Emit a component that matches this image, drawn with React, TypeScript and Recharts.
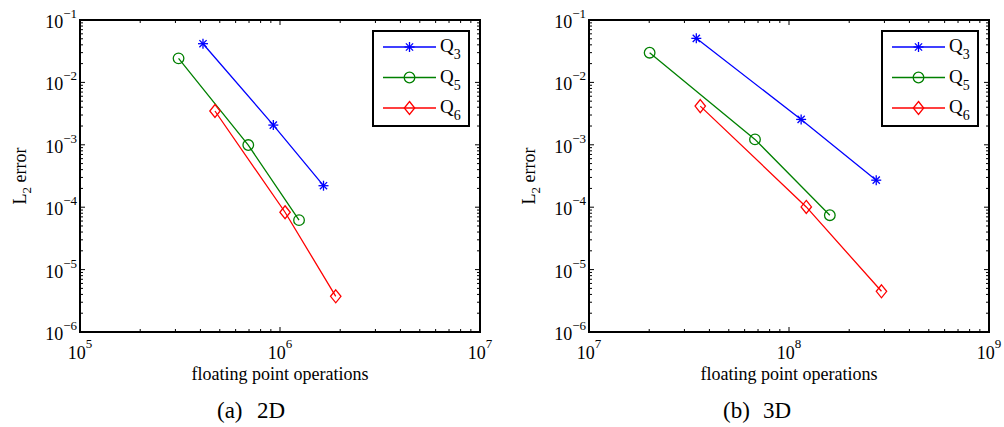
import React from 'react';
import { ScatterChart, Scatter, XAxis, YAxis, Legend } from 'recharts';

// ---------- data ----------
const seriesNames = ['Q3', 'Q5', 'Q6'];
const seriesColors = ['#0000ff', '#008000', '#ff0000'];

// 2D panel
const flops2dQ3 = [4.12e5, 9.26e5, 1.65e6];
const err2dQ3 = [4.17e-2, 2.07e-3, 2.21e-4];
const flops2dQ5 = [3.11e5, 6.94e5, 1.245e6];
const err2dQ5 = [2.43e-2, 9.9e-4, 6.2e-5];
const flops2dQ6 = [4.73e5, 1.06e6, 1.9e6];
const err2dQ6 = [3.48e-3, 8.3e-5, 3.73e-6];

// 3D panel
const flops3dQ3 = [3.44e7, 1.15e8, 2.73e8];
const err3dQ3 = [5.08e-2, 2.55e-3, 2.71e-4];
const flops3dQ5 = [2.01e7, 6.76e7, 1.6e8];
const err3dQ5 = [2.99e-2, 1.22e-3, 7.45e-5];
const flops3dQ6 = [3.6e7, 1.22e8, 2.9e8];
const err3dQ6 = [4.17e-3, 1.01e-4, 4.49e-6];

// axes
const xDecades2d = [5, 6, 7];
const xDecades3d = [7, 8, 9];
const yDecades = [-6, -5, -4, -3, -2, -1];
const minorMultipliers = [2, 3, 4, 5, 6, 7, 8, 9];

const xLabel = 'floating point operations';
const yLabelMain = 'L';
const yLabelSub = '2';
const yLabelRest = ' error';
const captions = [['(a)', '2D'], ['(b)', '3D']];

// ---------- helpers ----------
const FONT = '"Liberation Serif", "Times New Roman", serif';

function buildTicks(decades: number[]) {
  const out: number[] = [];
  decades.forEach((d, i) => {
    out.push(Math.pow(10, d));
    if (i < decades.length - 1) minorMultipliers.forEach((m) => out.push(m * Math.pow(10, d)));
  });
  return out;
}
function toPoints(xs: number[], ys: number[]) {
  return xs.map((x, i) => ({ x, y: ys[i] }));
}
function decadeOf(v: number) {
  const e = Math.log10(v);
  const r = Math.round(e);
  return Math.abs(e - r) < 1e-6 ? r : null;
}
function expText(e: number) {
  return e < 0 ? '\u2212' + Math.abs(e) : String(e);
}

const MAJOR = 5;
const MINOR = 3;

const BottomTick = (p: any) => {
  const { x, y, payload } = p;
  const e = decadeOf(payload.value);
  return (
    <g>
      <line x1={x} x2={x} y1={y} y2={y - (e !== null ? MAJOR : MINOR)} stroke="#000" strokeWidth={1} />
      {e !== null && (
        <text x={x} y={y + 27} textAnchor="middle" fontFamily={FONT} fontSize={18} fill="#000">
          <tspan>10</tspan>
          <tspan dy={-11} fontSize={13}>{expText(e)}</tspan>
        </text>
      )}
    </g>
  );
};
const TopTick = (p: any) => {
  const { x, y, payload } = p;
  const e = decadeOf(payload.value);
  return <line x1={x} x2={x} y1={y} y2={y + (e !== null ? MAJOR : MINOR)} stroke="#000" strokeWidth={1} />;
};
const LeftTick = (p: any) => {
  const { x, y, payload } = p;
  const e = decadeOf(payload.value);
  return (
    <g>
      <line x1={x} x2={x + (e !== null ? MAJOR : MINOR)} y1={y} y2={y} stroke="#000" strokeWidth={1} />
      {e !== null && (
        <text x={x - 3} y={y + 8} textAnchor="end" fontFamily={FONT} fontSize={18} fill="#000">
          <tspan>10</tspan>
          <tspan dy={-10} fontSize={13}>{expText(e)}</tspan>
        </text>
      )}
    </g>
  );
};
const RightTick = (p: any) => {
  const { x, y, payload } = p;
  const e = decadeOf(payload.value);
  return <line x1={x} x2={x - (e !== null ? MAJOR : MINOR)} y1={y} y2={y} stroke="#000" strokeWidth={1} />;
};

// markers
const Marker = ({ kind, cx, cy, color }: { kind: number; cx: number; cy: number; color: string }) => {
  if (kind === 0) {
    const r = 5;
    const d = r * 0.72;
    return (
      <g stroke={color} strokeWidth={1.3} fill="none">
        <line x1={cx - r} x2={cx + r} y1={cy} y2={cy} />
        <line x1={cx} x2={cx} y1={cy - r} y2={cy + r} />
        <line x1={cx - d} x2={cx + d} y1={cy - d} y2={cy + d} />
        <line x1={cx - d} x2={cx + d} y1={cy + d} y2={cy - d} />
      </g>
    );
  }
  if (kind === 1) {
    return <circle cx={cx} cy={cy} r={5.3} stroke={color} strokeWidth={1.3} fill="none" />;
  }
  return (
    <path
      d={`M${cx},${cy - 6.5} L${cx + 5.2},${cy} L${cx},${cy + 6.5} L${cx - 5.2},${cy} Z`}
      stroke={color}
      strokeWidth={1.3}
      fill="none"
    />
  );
};

const LegendBox = (props: any) => {
  const payload = props.payload || [];
  return (
    <svg width={98} height={97} style={{ display: 'block' }}>
      <rect x={1} y={1} width={96} height={95} fill="#fff" stroke="#000" strokeWidth={2} />
      {payload.map((entry: any, i: number) => {
        const cy = 17 + i * 30.5;
        const color = entry.color || seriesColors[i];
        const name = String(entry.value);
        return (
          <g key={name}>
            <line x1={11} x2={64} y1={cy} y2={cy} stroke={color} strokeWidth={1.3} />
            <Marker kind={i} cx={37.5} cy={cy} color={color} />
            <text x={68} y={cy + 5} fontFamily={FONT} fontSize={19} fill="#000">
              <tspan>{name.slice(0, 1)}</tspan>
              <tspan dy={7} fontSize={14}>{name.slice(1)}</tspan>
            </text>
          </g>
        );
      })}
    </svg>
  );
};

type Series = { name: string; color: string; data: { x: number; y: number }[] };

const Panel = ({
  left,
  width,
  plotLeft,
  plotRight,
  xDecades,
  series,
  caption,
  captionX,
}: {
  left: number;
  width: number;
  plotLeft: number;
  plotRight: number;
  xDecades: number[];
  series: Series[];
  caption: string[];
  captionX: number;
}) => {
  const height = 427;
  const xTicks = buildTicks(xDecades);
  const yTicks = buildTicks(yDecades);
  const xDomain = [Math.pow(10, xDecades[0]), Math.pow(10, xDecades[xDecades.length - 1])];
  const yDomain = [Math.pow(10, yDecades[0]), Math.pow(10, yDecades[yDecades.length - 1])];
  const axisLine = { stroke: '#000', strokeWidth: 2, strokeLinecap: 'square' as const };
  return (
    <div style={{ position: 'absolute', left, top: 0, width, height }}>
      <ScatterChart
        width={width}
        height={height}
        margin={{ top: 10, right: width - plotRight - 10, bottom: 55, left: plotLeft - 40 }}
      >
        <XAxis
          xAxisId="b"
          dataKey="x"
          type="number"
          scale="log"
          domain={xDomain}
          allowDataOverflow
          ticks={xTicks}
          interval={0}
          tickSize={0}
          tickMargin={0}
          height={40}
          orientation="bottom"
          axisLine={axisLine}
          tickLine={false}
          tick={(p: any) => <BottomTick {...p} />}
          label={{
            content: (lp: any) => {
              const vb = lp.viewBox || {};
              const cx = vb.x + vb.width / 2;
              return (
                <g>
                  <text x={cx} y={vb.y + 48} textAnchor="middle" fontFamily={FONT} fontSize={18} fill="#000">
                    {xLabel}
                  </text>
                  <text x={captionX} y={418} fontFamily={FONT} fontSize={23} fill="#000">
                    {caption[0]}
                  </text>
                  <text x={captionX + 40} y={418} fontFamily={FONT} fontSize={23} fill="#000">
                    {caption[1]}
                  </text>
                </g>
              );
            },
          }}
        />
        <XAxis
          xAxisId="t"
          dataKey="x"
          type="number"
          scale="log"
          domain={xDomain}
          allowDataOverflow
          ticks={xTicks}
          interval={0}
          tickSize={0}
          tickMargin={0}
          height={10}
          orientation="top"
          axisLine={axisLine}
          tickLine={false}
          tick={(p: any) => <TopTick {...p} />}
        />
        <YAxis
          yAxisId="l"
          dataKey="y"
          type="number"
          scale="log"
          domain={yDomain}
          allowDataOverflow
          ticks={yTicks}
          interval={0}
          tickSize={0}
          tickMargin={0}
          width={40}
          orientation="left"
          axisLine={axisLine}
          tickLine={false}
          tick={(p: any) => <LeftTick {...p} />}
          label={{
            content: (lp: any) => {
              const vb = lp.viewBox || {};
              const tx = vb.x + vb.width - 54;
              const ty = vb.y + vb.height / 2;
              return (
                <text
                  x={tx}
                  y={ty}
                  transform={`rotate(-90 ${tx} ${ty})`}
                  textAnchor="middle"
                  fontFamily={FONT}
                  fontSize={18}
                  fill="#000"
                >
                  <tspan>{yLabelMain}</tspan>
                  <tspan dy={5} fontSize={13}>{yLabelSub}</tspan>
                  <tspan dy={-5}>{yLabelRest}</tspan>
                </text>
              );
            },
          }}
        />
        <YAxis
          yAxisId="r"
          dataKey="y"
          type="number"
          scale="log"
          domain={yDomain}
          allowDataOverflow
          ticks={yTicks}
          interval={0}
          tickSize={0}
          tickMargin={0}
          width={10}
          orientation="right"
          axisLine={axisLine}
          tickLine={false}
          tick={(p: any) => <RightTick {...p} />}
        />
        {series.map((s, i) => (
          <Scatter
            key={s.name}
            name={s.name}
            xAxisId="b"
            yAxisId="l"
            data={s.data}
            fill={s.color}
            line={{ stroke: s.color, strokeWidth: 1.3 }}
            lineType="joint"
            isAnimationActive={false}
            shape={(p: any) => <Marker kind={i} cx={p.cx} cy={p.cy} color={s.color} />}
          />
        ))}
        <Legend
          layout="vertical"
          align="center"
          verticalAlign="middle"
          wrapperStyle={{ left: plotRight - 108, top: 30, width: 98, height: 97 }}
          content={(p: any) => <LegendBox {...p} />}
        />
      </ScatterChart>
    </div>
  );
};

export default function App() {
  const series2d: Series[] = [
    { name: seriesNames[0], color: seriesColors[0], data: toPoints(flops2dQ3, err2dQ3) },
    { name: seriesNames[1], color: seriesColors[1], data: toPoints(flops2dQ5, err2dQ5) },
    { name: seriesNames[2], color: seriesColors[2], data: toPoints(flops2dQ6, err2dQ6) },
  ];
  const series3d: Series[] = [
    { name: seriesNames[0], color: seriesColors[0], data: toPoints(flops3dQ3, err3dQ3) },
    { name: seriesNames[1], color: seriesColors[1], data: toPoints(flops3dQ5, err3dQ5) },
    { name: seriesNames[2], color: seriesColors[2], data: toPoints(flops3dQ6, err3dQ6) },
  ];
  return (
    <div style={{ position: 'absolute', left: 0, top: 0, width: 1004, height: 427, background: '#fff', overflow: 'hidden' }}>
      <Panel left={0} width={500} plotLeft={80} plotRight={480} xDecades={xDecades2d} series={series2d} caption={captions[0]} captionX={217} />
      <Panel left={500} width={504} plotLeft={89} plotRight={489} xDecades={xDecades3d} series={series3d} caption={captions[1]} captionX={223} />
    </div>
  );
}
